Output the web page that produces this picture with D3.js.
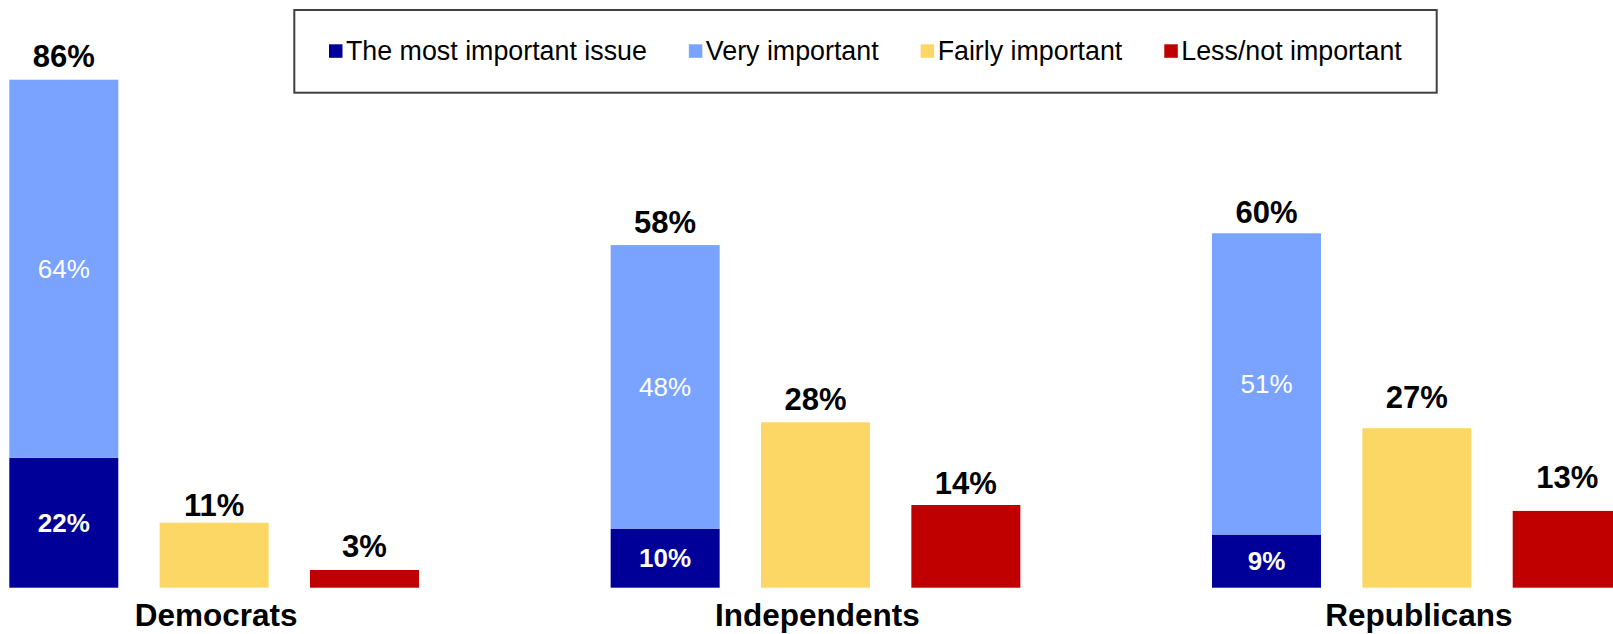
<!DOCTYPE html>
<html><head><meta charset="utf-8">
<script src="https://cdn.jsdelivr.net/npm/d3@7"></script>
<style>
body{margin:0;background:#fff}
svg{display:block}
text{font-family:"Liberation Sans",Arial,Helvetica,sans-serif}
</style>
</head><body>
<svg id="c" width="1613" height="634"></svg>
<script>
// ---- data ----
const groups = ["Democrats", "Independents", "Republicans"];
const seriesNames = ["The most important issue", "Very important", "Fairly important", "Less/not important"];
const mostImportant = [22, 10, 9];
const veryImportant = [64, 48, 51];
const fairlyImportant = [11, 28, 27];
const lessImportant = [3, 14, 13];
const colors = ["#000099", "#7AA3FF", "#FDD766", "#C00000"];
// label lift above bar tops (layout only, px)
const liftTotal = [13, 12, 10];
const liftFairly = [7, 12, 20];
const liftLess = [13, 11, 23];

const svg = d3.select("#c");

const y = d3.scaleLinear().domain([0, 100]).range([587.7, 587.7 - 590.7]);
const xGroup = d3.scaleBand().domain(groups).range([9.3, 9.3 + 3 * 601.35]);
const slots = ["stack", "fairly", "less"];
const xBar = d3.scaleBand().domain(slots).range([0, 409.7]).paddingInner(0.275).paddingOuter(0);
const bw = xBar.bandwidth();

const fmt = v => v + "%";

groups.forEach((g, i) => {
  const gx = xGroup(g);
  const gEl = svg.append("g").attr("transform", `translate(${gx},0)`);
  const total = mostImportant[i] + veryImportant[i];
  const segs = [
    {v0: 0, v1: mostImportant[i], c: colors[0], v: mostImportant[i], bold: true},
    {v0: mostImportant[i], v1: total, c: colors[1], v: veryImportant[i], bold: false}
  ];
  const sx = xBar("stack");
  segs.forEach(s => {
    gEl.append("rect").attr("x", sx).attr("width", bw)
      .attr("y", y(s.v1)).attr("height", y(s.v0) - y(s.v1)).attr("fill", s.c);
    gEl.append("text").attr("x", sx + bw / 2)
      .attr("y", (y(s.v0) + y(s.v1)) / 2 + 9.3)
      .attr("text-anchor", "middle").attr("fill", "#fff")
      .attr("font-size", 26).attr("font-weight", s.bold ? "bold" : "normal")
      .text(fmt(s.v));
  });
  gEl.append("text").attr("x", sx + bw / 2).attr("y", y(total) - liftTotal[i])
    .attr("text-anchor", "middle").attr("font-size", 31).attr("font-weight", "bold")
    .attr("fill", "#000").text(fmt(total));
  [[fairlyImportant, colors[2], "fairly", liftFairly], [lessImportant, colors[3], "less", liftLess]]
    .forEach(([arr, c, key, lift]) => {
      const bx = xBar(key);
      gEl.append("rect").attr("x", bx).attr("width", bw)
        .attr("y", y(arr[i])).attr("height", y(0) - y(arr[i])).attr("fill", c);
      gEl.append("text").attr("x", bx + bw / 2).attr("y", y(arr[i]) - lift[i])
        .attr("text-anchor", "middle").attr("font-size", 31).attr("font-weight", "bold")
        .attr("fill", "#000").text(fmt(arr[i]));
    });
  gEl.append("text").attr("x", xBar("fairly") + bw / 2 + 2).attr("y", 626)
    .attr("text-anchor", "middle").attr("font-size", 31.5).attr("font-weight", "bold")
    .attr("fill", "#000").text(g);
});

// ---- legend ----
const lg = svg.append("g");
lg.append("rect").attr("x", 294.3).attr("y", 10).attr("width", 1436.7 - 294.3).attr("height", 82.7)
  .attr("fill", "#fff").attr("stroke", "#404040").attr("stroke-width", 2);
let lx = 329;
seriesNames.forEach((n, k) => {
  lg.append("rect").attr("x", lx).attr("y", 44.3).attr("width", 13.5).attr("height", 13.5).attr("fill", colors[k]);
  const t = lg.append("text").attr("x", lx + 17).attr("y", 60).attr("font-size", 26.8)
    .attr("fill", "#000").text(n);
  const w = t.node().getComputedTextLength();
  lx = lx + 17 + w + 42;
});
</script>
</body></html>
